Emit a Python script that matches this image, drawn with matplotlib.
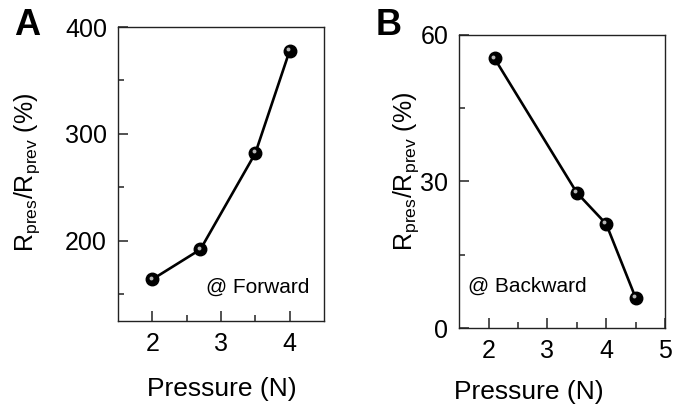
import matplotlib
matplotlib.use("Agg")
import matplotlib.pyplot as plt
import matplotlib.transforms as mtransforms

plt.rcParams['font.family'] = ['Liberation Sans', 'DejaVu Sans']
plt.rcParams['mathtext.fontset'] = 'custom'
plt.rcParams['mathtext.rm'] = 'Liberation Sans'
plt.rcParams['mathtext.it'] = 'Liberation Sans:italic'

# Data
pressure_fwd = [2.0, 2.7, 3.5, 4.0]
ratio_fwd = [164, 192, 282, 378]
pressure_bwd = [2.1, 3.5, 4.0, 4.5]
ratio_bwd = [55.2, 27.7, 21.3, 6.2]

yticks_fwd = [200, 300, 400]
yticks_bwd = [0, 30, 60]
xticks_fwd = [2, 3, 4]
xticks_bwd = [2, 3, 4, 5]

fig = plt.figure(figsize=(6.76, 4.18), dpi=100)
axA = fig.add_axes([0.1746, 0.232, 0.3047, 0.7033])
axB = fig.add_axes([0.6794, 0.2153, 0.3043, 0.701])

ylabel = r'R$_{\mathrm{pres}}$/R$_{\mathrm{prev}}$ (%)'

def style(ax, xt, yt, xlim, ylim, xminor, yminor):
    ax.set_xlim(*xlim)
    ax.set_ylim(*ylim)
    ax.set_xticks(xt)
    ax.set_yticks(yt)
    ax.set_xticks(xminor, minor=True)
    ax.set_yticks(yminor, minor=True)
    ax.tick_params(which='major', direction='in', length=7.5, width=1.1,
                   labelsize=18, pad=8, top=False, right=False, color='#222222')
    ax.tick_params(which='minor', direction='in', length=4, width=1.1,
                   top=False, right=False, color='#222222')
    for s in ax.spines.values():
        s.set_linewidth(1.0)
        s.set_color('#222222')

def draw(ax, x, y):
    ax.plot(x, y, color='black', lw=1.9, zorder=2)
    ax.plot(x, y, ls='none', marker='o', ms=9, mfc='black', mec='black', zorder=3)
    off = mtransforms.offset_copy(ax.transData, fig=fig, x=-1.3, y=1.3, units='points')
    ax.plot(x, y, ls='none', marker='o', ms=2.8, mfc='#b8b8b8', mec='none',
            transform=off, zorder=4)

# Panel A
style(axA, xticks_fwd, yticks_fwd, (1.5, 4.5), (125, 400), [2.5, 3.5], [150, 250, 350])
draw(axA, pressure_fwd, ratio_fwd)
axA.set_xlabel('Pressure (N)', fontsize=19)
axA.set_ylabel(ylabel, fontsize=18)
axA.xaxis.set_label_coords(0.503, -0.19)
axA.yaxis.set_label_coords(-0.37, 0.507)
axA.text(0.93, 0.116, '@ Forward', transform=axA.transAxes, fontsize=15,
         ha='right', va='center')
fig.text(14 / 676, 1 - 35 / 418, 'A', fontsize=26, fontweight='bold', ha='left', va='baseline')

# Panel B
style(axB, xticks_bwd, yticks_bwd, (1.5, 5.0), (0, 60), [2.5, 3.5, 4.5], [15, 45])
draw(axB, pressure_bwd, ratio_bwd)
axB.set_xlabel('Pressure (N)', fontsize=19)
axB.set_ylabel(ylabel, fontsize=18)
axB.xaxis.set_label_coords(0.338, -0.178)
axB.yaxis.set_label_coords(-0.188, 0.536)
axB.text(0.04, 0.141, '@ Backward', transform=axB.transAxes, fontsize=15,
         ha='left', va='center')
fig.text(376 / 676, 1 - 35 / 418, 'B', fontsize=26, fontweight='bold', ha='left', va='baseline')

fig.savefig('out.png', dpi=100)
